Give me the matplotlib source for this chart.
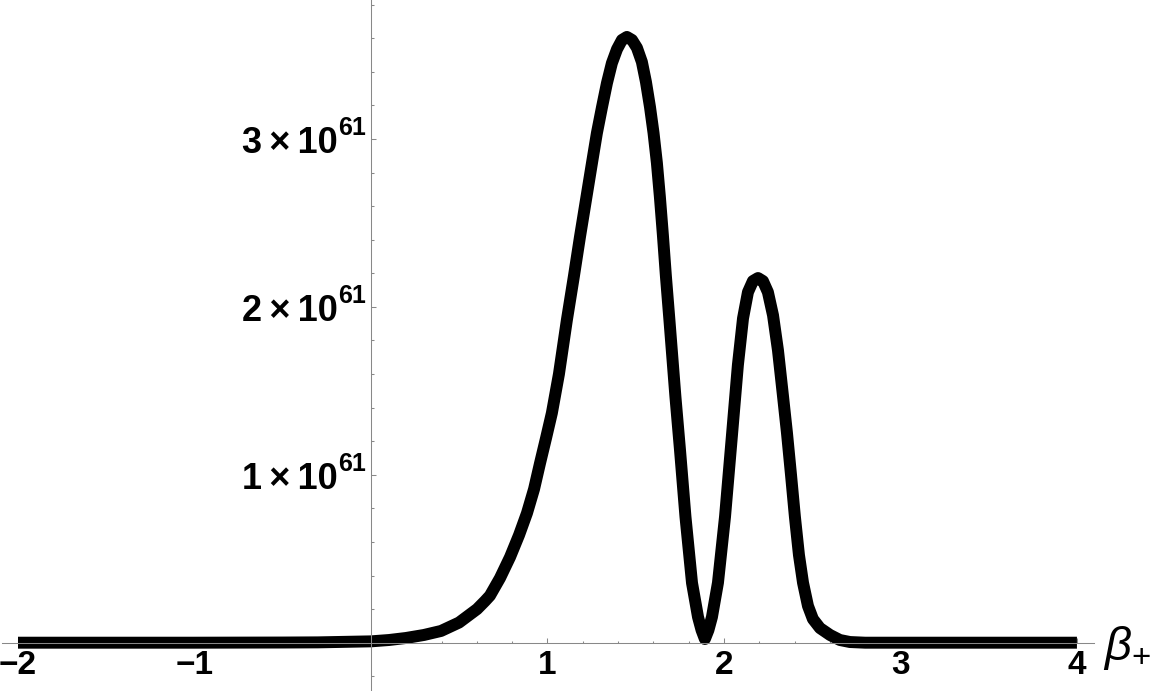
import numpy as np
import matplotlib
matplotlib.use('Agg')
import matplotlib.pyplot as plt

plt.rcParams['mathtext.fontset'] = 'custom'
plt.rcParams['mathtext.rm'] = 'Liberation Sans'
plt.rcParams['mathtext.it'] = 'Liberation Sans:italic'

# curve, y in units of 1e61
beta = [-2.0, -1.0, -0.5, -0.3, 0.0, 0.102, 0.198, 0.3, 0.397, 0.499, 0.601,
        0.646, 0.674, 0.731, 0.788, 0.839, 0.884, 0.924, 0.958, 0.992, 1.025,
        1.065, 1.110, 1.150, 1.184, 1.218, 1.252, 1.280, 1.309, 1.337, 1.365,
        1.394, 1.422, 1.450, 1.479, 1.507, 1.535, 1.558, 1.581, 1.601, 1.620,
        1.637, 1.654, 1.671, 1.691, 1.725, 1.751, 1.782, 1.819, 1.853, 1.873,
        1.892, 1.912, 1.932, 1.966, 2.006, 2.045, 2.079, 2.108, 2.136, 2.164,
        2.193, 2.221, 2.249, 2.278, 2.306, 2.334, 2.357, 2.380, 2.402, 2.425,
        2.448, 2.476, 2.504, 2.544, 2.601, 2.657, 2.714, 2.8, 3.0, 4.0]
value = [0.0, 0.0, 0.001, 0.002, 0.008, 0.016, 0.028, 0.046, 0.07, 0.12, 0.2,
         0.248, 0.28, 0.385, 0.51, 0.641, 0.772, 0.915, 1.07, 1.219, 1.368,
         1.60, 1.922, 2.184, 2.416, 2.636, 2.856, 3.035, 3.19, 3.333, 3.452,
         3.535, 3.59, 3.608, 3.59, 3.543, 3.459, 3.34, 3.19, 3.036, 2.858,
         2.655, 2.428, 2.184, 1.922, 1.465, 1.147, 0.749, 0.356, 0.153, 0.075,
         0.022, 0.075, 0.153, 0.357, 0.75, 1.231, 1.654, 1.932, 2.088, 2.154,
         2.172, 2.154, 2.088, 1.95, 1.742, 1.474, 1.25, 0.999, 0.75, 0.522,
         0.357, 0.219, 0.141, 0.087, 0.046, 0.016, 0.004, 0.0, 0.0, 0.0]
scale = 1e61

xticks = [-2, -1, 1, 2, 3, 4]
xlabels = ['\u22122', '\u22121', '1', '2', '3', '4']
yticks = [1, 2, 3]
ylabels = ['1\u2009\u00d7\u200910', '2\u2009\u00d7\u200910', '3\u2009\u00d7\u200910']
yexp = '61'

axcol = '#888888'

fig = plt.figure(figsize=(11.62, 6.91), dpi=100)
ax = fig.add_axes([0, 0, 1, 1])

ax.plot(beta, np.array(value) * scale, color='black', lw=8.6,
        solid_capstyle='butt', solid_joinstyle='round', zorder=2)

ax.set_xlim(-2.102, 4.482)
ax.set_ylim(-0.2877 * scale, 3.828 * scale)

for s in ['top', 'right']:
    ax.spines[s].set_visible(False)
ax.spines['left'].set_position(('data', 0))
ax.spines['bottom'].set_position(('data', 0))
ax.spines['bottom'].set_bounds(-2.09, 4.096)
for s in ['left', 'bottom']:
    ax.spines[s].set_color(axcol)
    ax.spines[s].set_linewidth(0.75)
    ax.spines[s].set_zorder(3)

xminor = [v for v in np.round(np.arange(-2, 4.01, 0.2), 1) if abs(v - round(v)) > 1e-6]
yminor = [v * scale for v in np.round(np.arange(-0.2, 3.81, 0.2), 1) if abs(v - round(v)) > 1e-6]
ax.set_xticks(xticks)
ax.set_xticklabels(xlabels, fontfamily='Liberation Sans', fontweight='bold', fontsize=24)
ax.set_xticks(xminor, minor=True)
ax.set_yticks([v * scale for v in yticks])
ax.set_yticklabels([])
ax.set_yticks(yminor, minor=True)
ax.tick_params(which='both', direction='in', color=axcol, width=0.75)
ax.tick_params(which='major', length=3.3)
ax.tick_params(which='minor', length=1.8)
ax.tick_params(axis='x', which='major', pad=5)

for v, lab in zip(yticks, ylabels):
    ax.annotate(lab, xy=(0, v * scale), xytext=(-33, -14), textcoords='offset pixels',
                ha='right', va='baseline', fontfamily='Liberation Sans',
                fontweight='bold', fontsize=26)
    ax.annotate(yexp, xy=(0, v * scale), xytext=(-33, 4), textcoords='offset pixels',
                ha='left', va='baseline', fontfamily='Liberation Sans',
                fontweight='bold', fontsize=18)

ax.annotate(r'$\beta_{+}$', xy=(4.096, 0), xytext=(9, -17), textcoords='offset pixels',
            ha='left', va='baseline', fontsize=34)

fig.savefig('out.png', dpi=100)
